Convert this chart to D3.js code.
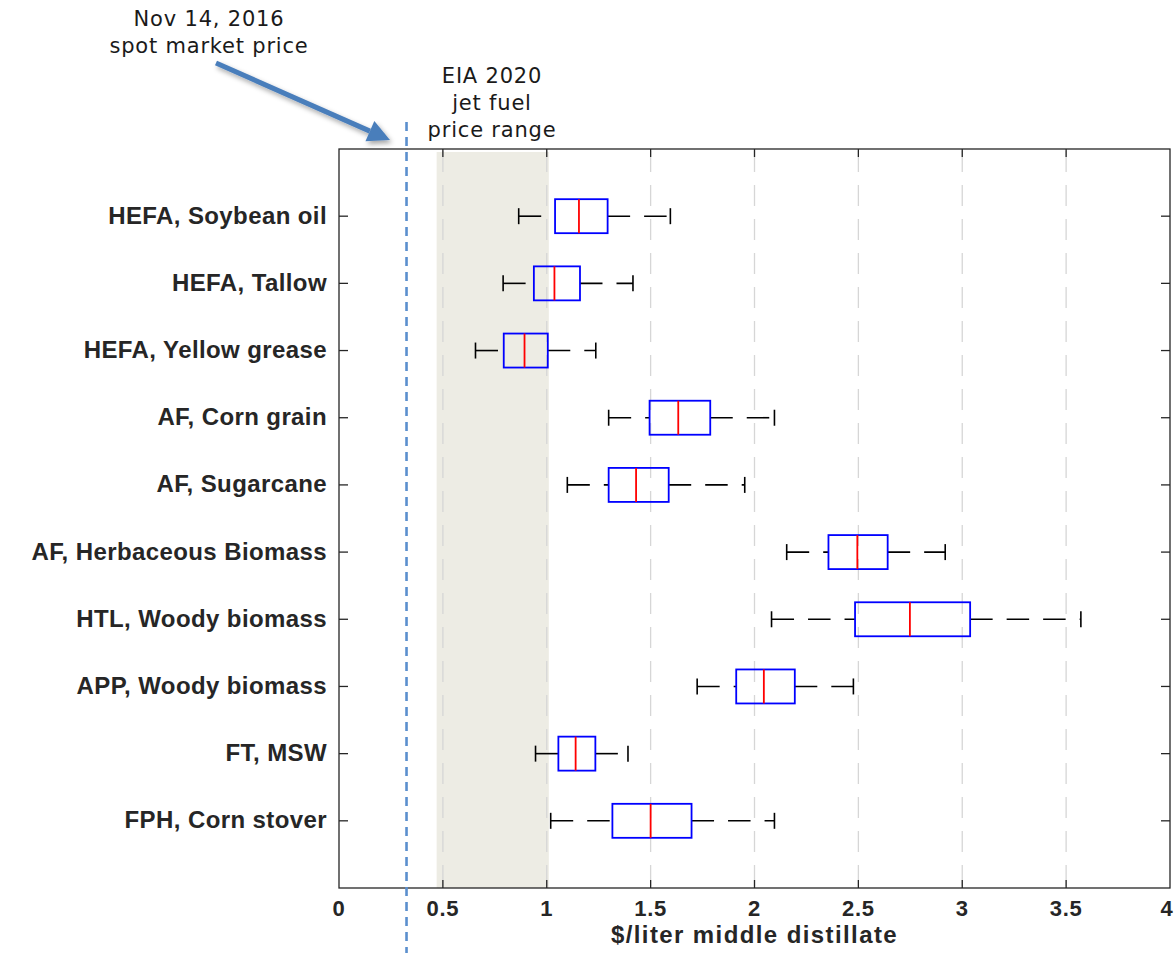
<!DOCTYPE html>
<head>
  <meta charset='utf-8'>
  <style>
    body { margin: 0; background: #fff; }
    svg { display: block; }
    .cat-label, .tick-label, .x-title {
      font-family: 'Liberation Sans', Arial, sans-serif;
      font-weight: bold;
      fill: #262626;
    }
    .note {
      font-family: 'DejaVu Sans', Verdana, sans-serif;
      fill: #1a1a1a;
      font-size: 21px;
      letter-spacing: 0.8px;
    }
  </style>
</head>
<body>
<script src='https://d3js.org/d3.v7.min.js'></script>
<script>
    var categories = [
        'HEFA, Soybean oil',
        'HEFA, Tallow',
        'HEFA, Yellow grease',
        'AF, Corn grain',
        'AF, Sugarcane',
        'AF, Herbaceous Biomass',
        'HTL, Woody biomass',
        'APP, Woody biomass',
        'FT, MSW',
        'FPH, Corn stover'
    ];
    // box plot stats, $/liter
    var lowWhisker  = [0.865, 0.790, 0.657, 1.298, 1.099, 2.155, 2.082, 1.724, 0.946, 1.019];
    var q1          = [1.040, 0.938, 0.793, 1.495, 1.298, 2.356, 2.484, 1.912, 1.056, 1.316];
    var median      = [1.155, 1.037, 0.893, 1.633, 1.430, 2.495, 2.748, 2.045, 1.139, 1.500];
    var q3          = [1.293, 1.160, 1.005, 1.787, 1.587, 2.641, 3.038, 2.194, 1.234, 1.697];
    var highWhisker = [1.595, 1.415, 1.236, 2.096, 1.953, 2.918, 3.571, 2.476, 1.391, 2.096];

    var xTicks = [0, 0.5, 1, 1.5, 2, 2.5, 3, 3.5, 4];
    var xTickLabels = ['0', '0.5', '1', '1.5', '2', '2.5', '3', '3.5', '4'];
    var gridValues = [0.5, 1, 1.5, 2, 2.5, 3, 3.5];
    var spotPrice = 0.325;
    var eiaRange = [0.47, 1.01];

    var
        W = 1175,
        H = 953,
        plotLeft = 339,
        plotRight = 1170,
        plotTop = 149,
        plotBottom = 888,
        axisColor = '#262626';

    var
        x = d3.scaleLinear().domain([0, 4]).range([plotLeft, plotRight]),
        y = d3.scaleLinear().domain([0, categories.length + 1]).range([plotTop, plotBottom]),
        boxH = 34,
        capH = 16;

    var svg = d3.select('body').append('svg')
        .attr('width', W)
        .attr('height', H);

    var defs = svg.append('defs');
    var f = defs.append('filter').attr('id', 'shadow')
        .attr('x', '-20%').attr('y', '-20%').attr('width', '140%').attr('height', '160%');
    f.append('feDropShadow')
        .attr('dx', 2).attr('dy', 3).attr('stdDeviation', 2.5)
        .attr('flood-color', '#000').attr('flood-opacity', 0.35);

    // EIA price band
    svg.append('rect')
        .attr('x', x(eiaRange[0]))
        .attr('y', plotTop + 3)
        .attr('width', x(eiaRange[1]) - x(eiaRange[0]))
        .attr('height', plotBottom - plotTop - 3)
        .attr('fill', '#edece4');

    // grid
    svg.append('g').selectAll('line')
        .data(gridValues)
        .enter().append('line')
        .attr('x1', function(d) { return x(d); })
        .attr('x2', function(d) { return x(d); })
        .attr('y1', plotTop + 2)
        .attr('y2', plotBottom)
        .attr('stroke', '#d6d6d6')
        .attr('stroke-width', 1.3)
        .attr('stroke-dasharray', '21,13');

    // frame
    svg.append('rect')
        .attr('x', plotLeft).attr('y', plotTop)
        .attr('width', plotRight - plotLeft).attr('height', plotBottom - plotTop)
        .attr('fill', 'none')
        .attr('stroke', axisColor)
        .attr('stroke-width', 1.3);

    // ticks, pointing inward on all four sides
    var tk = svg.append('g');
    xTicks.slice(1, -1).forEach(function(d) {
        tk.append('line').attr('x1', x(d)).attr('x2', x(d))
            .attr('y1', plotBottom).attr('y2', plotBottom - 8)
            .attr('stroke', axisColor).attr('stroke-width', 1.3);
        tk.append('line').attr('x1', x(d)).attr('x2', x(d))
            .attr('y1', plotTop).attr('y2', plotTop + 8)
            .attr('stroke', axisColor).attr('stroke-width', 1.3);
    });
    categories.forEach(function(c, i) {
        tk.append('line').attr('x1', plotLeft).attr('x2', plotLeft + 9)
            .attr('y1', y(i + 1)).attr('y2', y(i + 1))
            .attr('stroke', axisColor).attr('stroke-width', 1.3);
        tk.append('line').attr('x1', plotRight).attr('x2', plotRight - 9)
            .attr('y1', y(i + 1)).attr('y2', y(i + 1))
            .attr('stroke', axisColor).attr('stroke-width', 1.3);
    });

    svg.append('g').selectAll('text')
        .data(xTicks)
        .enter().append('text')
        .attr('class', 'tick-label')
        .attr('x', function(d) { return Math.min(x(d), W - 8); })
        .attr('y', 916)
        .attr('text-anchor', 'middle')
        .attr('font-size', '22px')
        .attr('letter-spacing', '0.8px')
        .text(function(d, i) { return xTickLabels[i]; });

    svg.append('text')
        .attr('class', 'x-title')
        .attr('x', (plotLeft + plotRight) / 2)
        .attr('y', 943)
        .attr('text-anchor', 'middle')
        .attr('font-size', '24px')
        .attr('letter-spacing', '1.4px')
        .text('$/liter middle distillate');

    svg.append('g').selectAll('text')
        .data(categories)
        .enter().append('text')
        .attr('class', 'cat-label')
        .attr('x', 327)
        .attr('y', function(d, i) { return y(i + 1) + 7.5; })
        .attr('text-anchor', 'end')
        .attr('font-size', '24px')
        .attr('letter-spacing', '0.4px')
        .text(function(d) { return d; });

    // box plots
    var boxes = svg.append('g').selectAll('g')
        .data(categories)
        .enter().append('g')
        .attr('transform', function(d, i) { return 'translate(0,' + y(i + 1) + ')'; });

    boxes.append('line')
        .attr('x1', function(d, i) { return x(lowWhisker[i]); })
        .attr('x2', function(d, i) { return x(q1[i]); })
        .attr('stroke', '#000').attr('stroke-width', 1.6)
        .attr('stroke-dasharray', '22.5,14');
    boxes.append('line')
        .attr('x1', function(d, i) { return x(q3[i]); })
        .attr('x2', function(d, i) { return x(highWhisker[i]); })
        .attr('stroke', '#000').attr('stroke-width', 1.6)
        .attr('stroke-dasharray', '22.5,14');
    [lowWhisker, highWhisker].forEach(function(arr) {
        boxes.append('line')
            .attr('x1', function(d, i) { return x(arr[i]); })
            .attr('x2', function(d, i) { return x(arr[i]); })
            .attr('y1', -capH / 2).attr('y2', capH / 2)
            .attr('stroke', '#000').attr('stroke-width', 1.6);
    });
    boxes.append('rect')
        .attr('x', function(d, i) { return x(q1[i]); })
        .attr('y', -boxH / 2)
        .attr('width', function(d, i) { return x(q3[i]) - x(q1[i]); })
        .attr('height', boxH)
        .attr('fill', 'none')
        .attr('stroke', '#0000ff').attr('stroke-width', 1.8);
    boxes.append('line')
        .attr('x1', function(d, i) { return x(median[i]); })
        .attr('x2', function(d, i) { return x(median[i]); })
        .attr('y1', -boxH / 2).attr('y2', boxH / 2)
        .attr('stroke', '#ff0000').attr('stroke-width', 1.8);

    // spot market price line
    svg.append('line')
        .attr('x1', x(spotPrice)).attr('x2', x(spotPrice))
        .attr('y1', 122).attr('y2', H)
        .attr('stroke', '#5b8fce')
        .attr('stroke-width', 2.6)
        .attr('stroke-dasharray', '9,6');

    // annotations
    var n1 = svg.append('text').attr('class', 'note').attr('text-anchor', 'middle');
    n1.append('tspan').attr('x', 209).attr('y', 26).text('Nov 14, 2016');
    n1.append('tspan').attr('x', 209).attr('y', 53).text('spot market price');

    var n2 = svg.append('text').attr('class', 'note').attr('text-anchor', 'middle');
    n2.append('tspan').attr('x', 492).attr('y', 83).text('EIA 2020');
    n2.append('tspan').attr('x', 492).attr('y', 110).text('jet fuel');
    n2.append('tspan').attr('x', 492).attr('y', 136.5).text('price range');

    // arrow
    var ax0 = 216, ay0 = 63, ax1 = 390, ay1 = 140;
    var ang = Math.atan2(ay1 - ay0, ax1 - ax0),
        headLen = 22, headW = 11;
    var bx = ax1 - headLen * Math.cos(ang), by = ay1 - headLen * Math.sin(ang);
    var arrow = svg.append('g').attr('filter', 'url(#shadow)');
    arrow.append('line')
        .attr('x1', ax0).attr('y1', ay0).attr('x2', bx).attr('y2', by)
        .attr('stroke', '#4a7ebb').attr('stroke-width', 5);
    arrow.append('path')
        .attr('d', 'M' + ax1 + ',' + ay1 +
            'L' + (bx + headW * Math.sin(ang)) + ',' + (by - headW * Math.cos(ang)) +
            'L' + (bx - headW * Math.sin(ang)) + ',' + (by + headW * Math.cos(ang)) + 'Z')
        .attr('fill', '#4a7ebb');
</script>
</body>
